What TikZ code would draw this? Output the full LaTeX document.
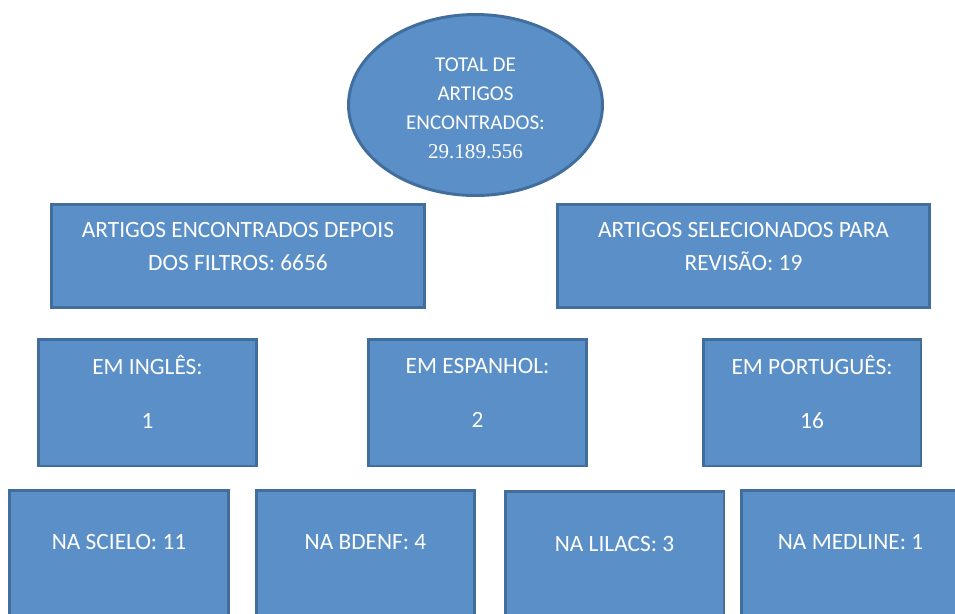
\documentclass[tikz,border=0pt]{standalone}
\usepackage{fontspec}
\setmainfont{Carlito}
\newfontfamily\numfont{Liberation Serif}
\usetikzlibrary{shapes.geometric}
\definecolor{boxfill}{RGB}{91,143,200}
\definecolor{boxline}{RGB}{66,110,158}
\tikzset{
	block/.style={rectangle, fill=boxfill, draw=boxline, line width=1.7pt, inner sep=0},
	blob/.style={ellipse, fill=boxfill, draw=boxline, line width=1.7pt, inner sep=0, minimum width=5.08cm, minimum height=3.62cm},
	widebox/.style={block, minimum width=7.46cm, minimum height=2.06cm},
	langbox/.style={block, minimum width=4.36cm, minimum height=2.54cm},
	basebox/.style={block, minimum width=4.38cm, minimum height=2.54cm},
	boxtext/.style={text=white, font=\fontsize{13.3}{18.7}\selectfont, align=center, inner sep=0},
	blobtext/.style={boxtext, font=\fontsize{12}{16.4}\selectfont}
}

\begin{document}
\begin{tikzpicture}[x=0.02cm, y=-0.02cm]
		\useasboundingbox (0, 0) rectangle (955, 613);
		\clip (0, 0) rectangle (955, 613);

		\node [blob] (total) at (475.5, 105) {};
		\node [widebox] (filtros) at (238, 256) {};
		\node [widebox] (selec) at (743.5, 256) {};
		\node [langbox] (ingles) at (147.5, 402.5) {};
		\node [langbox] (espanhol) at (477.5, 402.5) {};
		\node [langbox] (portugues) at (812, 402.5) {};
		\node [basebox] (scielo) at (119, 554) {};
		\node [basebox] (bdenf) at (365.5, 554) {};
		\node [basebox] (lilacs) at (614.5, 555) {};
		\node [basebox] (medline) at (850.5, 554) {};

		\node [blobtext] (totaltxt) at (475.5, 108.5) {TOTAL DE\\ARTIGOS\\ENCONTRADOS:\\{\numfont 29.189.556}};
		\node [boxtext] (filtrostxt) at (238, 246.7) {ARTIGOS ENCONTRADOS DEPOIS\\DOS FILTROS: 6656};
		\node [boxtext] (selectxt) at (743.5, 246.7) {ARTIGOS SELECIONADOS PARA\\REVISÃO: 19};
		\node [boxtext] (inglestxt) at (147.5, 392) {EM INGLÊS:\\[11.9pt]1};
		\node [boxtext] (espanholtxt) at (477.5, 393) {EM ESPANHOL:\\[11.9pt]2};
		\node [boxtext] (portuguestxt) at (812, 392) {EM PORTUGUÊS:\\[11.9pt]16};
		\node [boxtext] (scielotxt) at (119, 542) {NA SCIELO: 11};
		\node [boxtext] (bdenftxt) at (365.5, 542) {NA BDENF: 4};
		\node [boxtext] (lilacstxt) at (614.5, 544) {NA LILACS: 3};
		\node [boxtext] (medlinetxt) at (850.5, 542) {NA MEDLINE: 1};
\end{tikzpicture}
\end{document}
